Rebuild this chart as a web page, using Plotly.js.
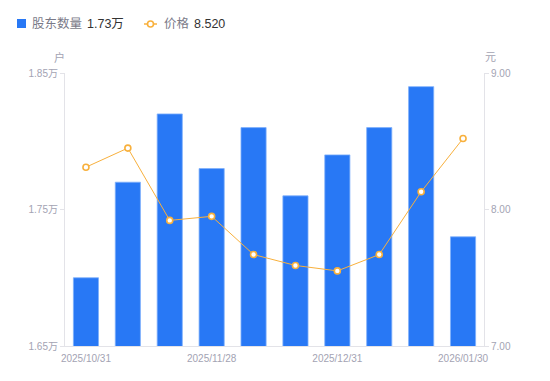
<!DOCTYPE html>
<html>
<head>
<meta charset="utf-8">
<script src="https://cdn.plot.ly/plotly-3.0.1.min.js"></script>
<style>html,body{margin:0;padding:0;background:#fff;}#chart{width:550px;height:381px;}</style>
</head>
<body>
<div id="chart"></div>
<script>
const dates = ["2025/10/31","2025/11/10","2025/11/20","2025/11/28","2025/12/10","2025/12/19","2025/12/31","2026/01/09","2026/01/20","2026/01/30"];
const holders = [1.70, 1.77, 1.82, 1.78, 1.81, 1.76, 1.79, 1.81, 1.84, 1.73];
const prices = [8.31, 8.45, 7.92, 7.95, 7.67, 7.59, 7.55, 7.67, 8.13, 8.52];
const xTickVals = ["2025/10/31","2025/11/28","2025/12/31","2026/01/30"];
const leftTicks = [1.65, 1.75, 1.85];
const leftTickText = ["1.65万","1.75万","1.85万"];
const rightTicks = [7, 8, 9];

const W = 550, H = 381, L = 65, R = 66, T = 73, B = 35;
const px = x => (x - L) / (W - L - R);
const py = y => (H - B - y) / (H - T - B);

const blue = "#2878f5", orange = "#f8b03c";
const ff = "'Liberation Sans', Arial, 'Noto Sans CJK SC', sans-serif";
const tickFont = {family: ff, size: 10, color: "#a3a3b3"};

const traces = [
  {type: "bar", x: dates, y: holders, yaxis: "y", width: 0.6,
   marker: {color: blue, line: {color: "#7fb0fb", width: 0.8}}, hoverinfo: "skip"},
  {type: "scatter", mode: "lines+markers", x: dates, y: prices, yaxis: "y2",
   line: {color: orange, width: 1},
   marker: {symbol: "circle", size: 6, color: "#fff", line: {color: orange, width: 1.6}}, hoverinfo: "skip"}
];

const last = holders[holders.length - 1].toFixed(2) + "万";
const lastP = prices[prices.length - 1].toFixed(3);

const layout = {
  width: W, height: H, margin: {l: L, r: R, t: T, b: B},
  paper_bgcolor: "#fff", plot_bgcolor: "#fff", showlegend: false, bargap: 0.4,
  xaxis: {type: "category", range: [-0.5, dates.length - 0.5], tickvals: xTickVals, ticktext: xTickVals, showline: true, linecolor: "#e3e3e8",
    linewidth: 1, ticks: "", showgrid: false, zeroline: false, tickfont: tickFont, ticklabelstandoff: 3, fixedrange: true},
  yaxis: {range: [1.65, 1.85], tickvals: leftTicks, ticktext: leftTickText, showline: true, linecolor: "#e3e3e8",
    ticks: "outside", ticklen: 4, tickcolor: "#e3e3e8", showgrid: false, zeroline: false, tickfont: tickFont},
  yaxis2: {range: [7, 9], overlaying: "y", side: "right", tickvals: rightTicks, tickformat: ".2f", showline: true,
    linecolor: "#e3e3e8", ticks: "outside", ticklen: 4, tickcolor: "#e3e3e8", showgrid: false, zeroline: false, tickfont: tickFont},
  shapes: [
    {type: "rect", xref: "paper", yref: "paper", x0: px(17), x1: px(26), y0: py(28), y1: py(19), fillcolor: blue, line: {width: 0}},
    {type: "line", xref: "paper", yref: "paper", x0: px(144), x1: px(157), y0: py(24), y1: py(24), line: {color: orange, width: 1.5}},
    {type: "circle", xref: "paper", yref: "paper", x0: px(147.5), x1: px(153.5), y0: py(27), y1: py(21),
     fillcolor: "#fff", line: {color: orange, width: 1.6}}
  ],
  annotations: [
    {xref: "paper", yref: "paper", x: px(30), y: py(24), xanchor: "left", yanchor: "middle", showarrow: false,
     text: "股东数量", font: {family: ff, size: 12.5, color: "#7a7a88"}},
    {xref: "paper", yref: "paper", x: px(85), y: py(24), xanchor: "left", yanchor: "middle", showarrow: false,
     text: last, font: {family: ff, size: 12.5, color: "#333"}},
    {xref: "paper", yref: "paper", x: px(162), y: py(24), xanchor: "left", yanchor: "middle", showarrow: false,
     text: "价格", font: {family: ff, size: 12.5, color: "#7a7a88"}},
    {xref: "paper", yref: "paper", x: px(192), y: py(24), xanchor: "left", yanchor: "middle", showarrow: false,
     text: lastP, font: {family: ff, size: 12.5, color: "#333"}},
    {xref: "paper", yref: "paper", x: px(59), y: py(57), xanchor: "center", yanchor: "middle", showarrow: false,
     text: "户", font: {family: ff, size: 11, color: "#a3a3b3"}},
    {xref: "paper", yref: "paper", x: px(490), y: py(57), xanchor: "center", yanchor: "middle", showarrow: false,
     text: "元", font: {family: ff, size: 11, color: "#a3a3b3"}}
  ]
};

Plotly.newPlot("chart", traces, layout, {staticPlot: true, displayModeBar: false});
</script>
</body>
</html>
